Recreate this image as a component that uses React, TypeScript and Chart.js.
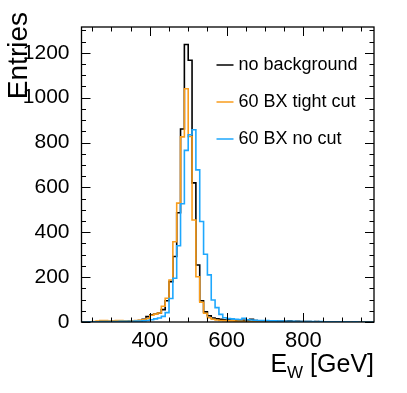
import React, { useEffect, useRef } from 'react';
import { Chart, registerables } from 'chart.js';

Chart.register(...registerables);

// Histogram binning (GeV)
const binLow = 220;
const binWidth = 10;

// Bin contents, bins 220..980 GeV (10 GeV wide)
const noBackground = [
  0, 0, 0, 0, 1, 1, 1, 2,
  2, 2, 3, 3, 4, 5, 5, 7, 12, 24,
  32, 35, 40, 55, 95, 180, 292, 487, 860, 1237,
  1167, 620, 254, 95, 45, 28, 18, 14, 12, 10,
  10, 8, 8, 7, 8, 6, 12, 6, 5, 5,
  4, 4, 5, 3, 3, 3, 4, 2, 3, 2,
  2, 2, 1, 2, 1, 1, 1, 1, 0, 1,
  0, 1, 0, 0, 0, 0, 0, 0, 0,
];
const tightCut = [
  0, 1, 1, 2, 4, 6, 6, 4,
  5, 6, 6, 5, 4, 5, 6, 8, 10, 15,
  30, 35, 40, 70, 106, 187, 358, 530, 825, 1040,
  827, 455, 202, 88, 39, 19, 12, 9, 7, 6,
  5, 5, 4, 4, 3, 3, 3, 2, 2, 2,
  2, 1, 2, 1, 1, 1, 1, 1, 0, 1,
  1, 0, 1, 0, 0, 1, 0, 0, 0, 0,
  0, 0, 0, 0, 0, 0, 0, 0, 0,
];
const noCut = [
  0, 0, 1, 1, 1, 2, 2, 2,
  2, 2, 3, 3, 3, 3, 4, 4, 5, 7,
  10, 14, 18, 25, 42, 105, 195, 340, 527, 765,
  835, 857, 678, 448, 302, 210, 98, 64, 34, 19,
  15, 14, 12, 11, 17, 10, 9, 8, 7, 6,
  6, 5, 5, 4, 4, 3, 3, 3, 2, 2,
  2, 2, 2, 1, 2, 1, 1, 1, 1, 1,
  1, 1, 0, 1, 0, 0, 0, 0, 0,
];

const seriesLabels = ['no background', '60 BX tight cut', '60 BX no cut'];
const seriesColors = ['#000000', '#f99d1c', '#1ea7fd'];

const xTicks = [400, 600, 800];
const yTicks = [0, 200, 400, 600, 800, 1000, 1200];
const xRange = [222, 984];
const yRange = [0, 1315];
const xMinorStep = 50;
const yMinorStep = 50;
const majorStep = 200;

const FONT = '"Liberation Sans", Arial, Helvetica, sans-serif';

function toSteps(vals: number[]) {
  const pts = vals.map((v, i) => ({ x: binLow + i * binWidth, y: v }));
  pts.push({ x: binLow + vals.length * binWidth, y: vals[vals.length - 1] });
  return pts;
}

const decor = {
  id: 'decor',
  afterDatasetsDraw(chart: any) {
    const { ctx, chartArea: a, scales } = chart;
    const xs = scales.x;
    const ys = scales.y;
    ctx.save();
    ctx.strokeStyle = '#000';
    ctx.lineWidth = 1;
    ctx.beginPath();
    const x0 = Math.ceil(xRange[0] / xMinorStep) * xMinorStep;
    for (let v = x0; v <= xRange[1]; v += xMinorStep) {
      const px = Math.round(xs.getPixelForValue(v)) + 0.5;
      const len = v % majorStep === 0 ? 9 : 4.5;
      ctx.moveTo(px, a.bottom);
      ctx.lineTo(px, a.bottom - len);
      ctx.moveTo(px, a.top);
      ctx.lineTo(px, a.top + len);
    }
    for (let v = yRange[0]; v <= yRange[1]; v += yMinorStep) {
      const py = Math.round(ys.getPixelForValue(v)) + 0.5;
      const len = v % majorStep === 0 ? 9 : 4.5;
      ctx.moveTo(a.left, py);
      ctx.lineTo(a.left + len, py);
      ctx.moveTo(a.right, py);
      ctx.lineTo(a.right - len, py);
    }
    ctx.stroke();
    ctx.lineWidth = 1.3;
    ctx.strokeRect(a.left, a.top, a.right - a.left, a.bottom - a.top);

    // Legend
    ctx.textBaseline = 'middle';
    ctx.textAlign = 'left';
    ctx.font = `18px ${FONT}`;
    chart.data.datasets.forEach((ds: any, i: number) => {
      const y = a.top + 38 + i * 37;
      ctx.strokeStyle = ds.borderColor;
      ctx.lineWidth = 1.5;
      ctx.beginPath();
      ctx.moveTo(a.left + 135, y);
      ctx.lineTo(a.left + 152, y);
      ctx.stroke();
      ctx.fillStyle = '#000';
      ctx.fillText(ds.label, a.left + 157, y);
    });

    // X title: E_W [GeV]
    ctx.fillStyle = '#000';
    ctx.textBaseline = 'alphabetic';
    const big = `25px ${FONT}`;
    const small = `17px ${FONT}`;
    ctx.font = big;
    const wE = ctx.measureText('E').width;
    const wRest = ctx.measureText(' [GeV]').width;
    ctx.font = small;
    const wW = ctx.measureText('W').width;
    const total = wE + wW + wRest;
    let tx = a.right - total;
    const ty = 372;
    ctx.font = big;
    ctx.fillText('E', tx, ty);
    tx += wE;
    ctx.font = small;
    ctx.fillText('W', tx, ty + 6);
    tx += wW;
    ctx.font = big;
    ctx.fillText(' [GeV]', tx, ty);

    // Y title
    ctx.save();
    ctx.translate(27, 12);
    ctx.rotate(-Math.PI / 2);
    ctx.textAlign = 'right';
    ctx.font = `28px ${FONT}`;
    ctx.fillText('Entries', 0, 0);
    ctx.restore();

    ctx.restore();
  },
};

export default function App() {
  const ref = useRef<HTMLCanvasElement>(null);
  useEffect(() => {
    if (!ref.current) return;
    const series = [noBackground, tightCut, noCut];
    const chart = new Chart(ref.current, {
      type: 'line',
      data: {
        datasets: series.map((vals, i) => ({
          label: seriesLabels[i],
          data: toSteps(vals),
          borderColor: seriesColors[i],
          backgroundColor: seriesColors[i],
          borderWidth: 1.6,
          pointRadius: 0,
          fill: false,
          stepped: true,
          tension: 0,
          order: 3 - i,
        })),
      },
      options: {
        responsive: false,
        animation: false,
        events: [],
        layout: { padding: { top: 27, right: 33, left: 0, bottom: 0 } },
        plugins: { legend: { display: false }, tooltip: { enabled: false } },
        scales: {
          x: {
            type: 'linear',
            min: xRange[0],
            max: xRange[1],
            grid: { display: false },
            border: { display: false },
            afterBuildTicks: (s: any) => {
              s.ticks = xTicks.map((v) => ({ value: v }));
            },
            afterFit: (s: any) => {
              s.height = 71;
            },
            ticks: {
              color: '#000',
              font: { family: FONT, size: 22 },
              padding: -2,
              maxRotation: 0,
              autoSkip: false,
              callback: (v: any) => String(v),
            },
          },
          y: {
            type: 'linear',
            min: yRange[0],
            max: yRange[1],
            grid: { display: false },
            border: { display: false },
            afterBuildTicks: (s: any) => {
              s.ticks = yTicks.map((v) => ({ value: v }));
            },
            afterFit: (s: any) => {
              s.width = 81.5;
            },
            ticks: {
              color: '#000',
              font: { family: FONT, size: 21 },
              padding: 4,
              autoSkip: false,
              callback: (v: any) => String(v),
            },
          },
        },
      },
      plugins: [decor],
    });
    return () => chart.destroy();
  }, []);
  return (
    <div style={{ position: 'fixed', left: 0, top: 0, width: 407, height: 393, background: '#fff' }}>
      <canvas ref={ref} width={407} height={393} />
    </div>
  );
}
